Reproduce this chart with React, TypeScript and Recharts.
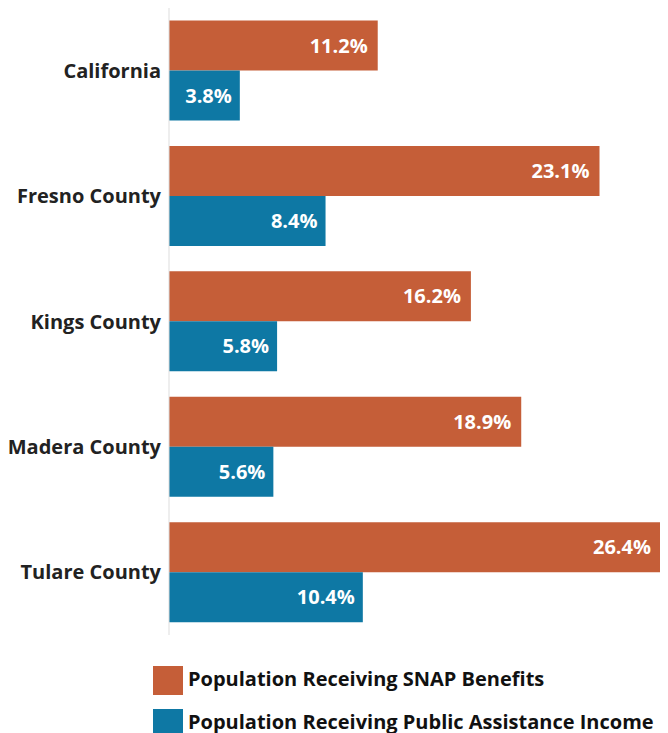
import React from 'react';
import { BarChart, Bar, XAxis, YAxis, Legend, LabelList } from 'recharts';

const regions = ['California', 'Fresno County', 'Kings County', 'Madera County', 'Tulare County'];
const snapValues = [11.2, 23.1, 16.2, 18.9, 26.4];
const assistanceValues = [3.8, 8.4, 5.8, 5.6, 10.4];
const seriesNames = ['Population Receiving SNAP Benefits', 'Population Receiving Public Assistance Income'];
const seriesColors = ['#C55E38', '#0E78A4'];

const FONT = '"Open Sans", "Noto Sans", sans-serif';

const data = regions.map((name, i) => ({
  name,
  snap: snapValues[i],
  assistance: assistanceValues[i],
}));

const RegionTick = (props: any) => {
  const { x, y, payload } = props;
  return (
    <text x={x + 4} y={y} dy={7} textAnchor="end" fill="#222" fontFamily={FONT} fontWeight={700} fontSize={20}>
      {payload.value}
    </text>
  );
};

const LegendBlock = () => (
  <div style={{ fontFamily: FONT, fontWeight: 700, fontSize: 20, color: '#111' }}>
    {seriesNames.map((label, i) => (
      <div key={label} style={{ display: 'flex', alignItems: 'center', height: 30, marginBottom: 13 }}>
        <span style={{ width: 30, height: 29, background: seriesColors[i], marginRight: 5, marginTop: 3, display: 'inline-block' }} />
        <span style={{ whiteSpace: 'nowrap', lineHeight: '24px' }}>{label}</span>
      </div>
    ))}
  </div>
);

const App: React.FC = () => {
  return (
    <div style={{ width: 660, height: 725 }}>
      <BarChart
        layout="vertical"
        width={660}
        height={725}
        data={data}
        margin={{ top: 0, right: 7, bottom: 12, left: 0 }}
        barCategoryGap="10%"
        barGap={0}
      >
        <XAxis type="number" domain={[0, 26.4]} hide />
        <YAxis
          type="category"
          dataKey="name"
          width={161}
          axisLine={{ stroke: '#ddd' }}
          tickLine={false}
          tick={<RegionTick />}
          tickMargin={6}
        />
        <Legend
          content={<LegendBlock />}
          wrapperStyle={{ top: 656, left: 145, bottom: 'auto', width: 'auto' }}
        />
        <Bar dataKey="snap" name={seriesNames[0]} fill={seriesColors[0]} isAnimationActive={false}>
          <LabelList
            dataKey="snap"
            position="insideRight"
            offset={10}
            fill="#fff"
            fontFamily={FONT}
            fontWeight={700}
            fontSize={20}
            formatter={(v: any) => `${v}%`}
          />
        </Bar>
        <Bar dataKey="assistance" name={seriesNames[1]} fill={seriesColors[1]} isAnimationActive={false}>
          <LabelList
            dataKey="assistance"
            position="insideRight"
            offset={8}
            fill="#fff"
            fontFamily={FONT}
            fontWeight={700}
            fontSize={20}
            formatter={(v: any) => `${v}%`}
          />
        </Bar>
      </BarChart>
    </div>
  );
};

export default App;
